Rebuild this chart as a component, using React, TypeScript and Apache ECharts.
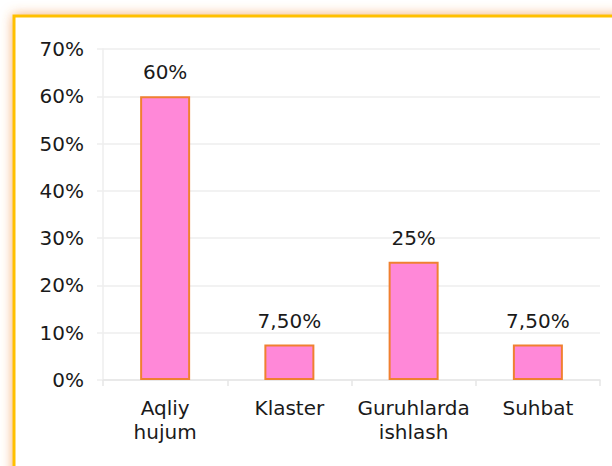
import React, { useEffect, useRef } from "react";
import * as echarts from "echarts";

const categories = ["Aqliy\nhujum", "Klaster", "Guruhlarda\nishlash", "Suhbat"];
const values = [60, 7.5, 25, 7.5];
const yMax = 70;
const yInterval = 10;

const fmtPct = (v: number) =>
  Number.isInteger(v) ? `${v}%` : `${v.toFixed(2).replace(".", ",")}%`;

export default function App() {
  const ref = useRef<HTMLDivElement>(null);
  useEffect(() => {
    if (!ref.current) return;
    const chart = echarts.init(ref.current, undefined, { renderer: "svg" });
    const font = "DejaVu Sans";
    chart.setOption({
      animation: false,
      backgroundColor: "#ffffff",
      textStyle: { fontFamily: font },
      graphic: [
        {
          type: "rect",
          z: -10,
          silent: true,
          shape: { x: 14, y: 16, width: 640, height: 480 },
          style: {
            fill: "#ffffff",
            stroke: "#FFC000",
            lineWidth: 3,
            shadowBlur: 12,
            shadowColor: "rgba(240,140,60,0.7)",
          },
        },
      ],
      grid: { left: 103, right: 12, top: 49, bottom: 86, containLabel: false },
      xAxis: {
        type: "category",
        data: categories,
        boundaryGap: true,
        axisLine: { show: true, lineStyle: { color: "#e6e6e6", width: 1.5 } },
        axisTick: { show: true, alignWithLabel: false, length: 6, lineStyle: { color: "#e6e6e6", width: 1.5 } },
        axisLabel: {
          color: "#1a1a1a",
          fontSize: 20,
          fontFamily: font,
          margin: 16,
          lineHeight: 24,
          interval: 0,
        },
      },
      yAxis: {
        type: "value",
        min: 0,
        max: yMax,
        interval: yInterval,
        axisLine: { show: true, lineStyle: { color: "#eeeeee", width: 1.5 } },
        axisTick: { show: true, length: 6, lineStyle: { color: "#eeeeee", width: 1.5 } },
        splitLine: { show: true, lineStyle: { color: "#eeeeee", width: 1.5 } },
        axisLabel: {
          color: "#1a1a1a",
          fontSize: 20,
          fontFamily: font,
          margin: 19,
          formatter: (v: number) => `${v}%`,
        },
      },
      series: [
        {
          type: "bar",
          data: values,
          barWidth: 50,
          itemStyle: { color: "#FF88D8", borderColor: "#F08030", borderWidth: 2 },
          label: {
            show: true,
            position: "top",
            distance: 14,
            color: "#1a1a1a",
            fontSize: 20,
            fontFamily: font,
            formatter: (p: any) => fmtPct(p.value),
          },
        },
      ],
    });
    return () => chart.dispose();
  }, []);
  return (
    <div
      ref={ref}
      style={{ position: "fixed", left: 0, top: 0, width: 612, height: 466 }}
    />
  );
}
